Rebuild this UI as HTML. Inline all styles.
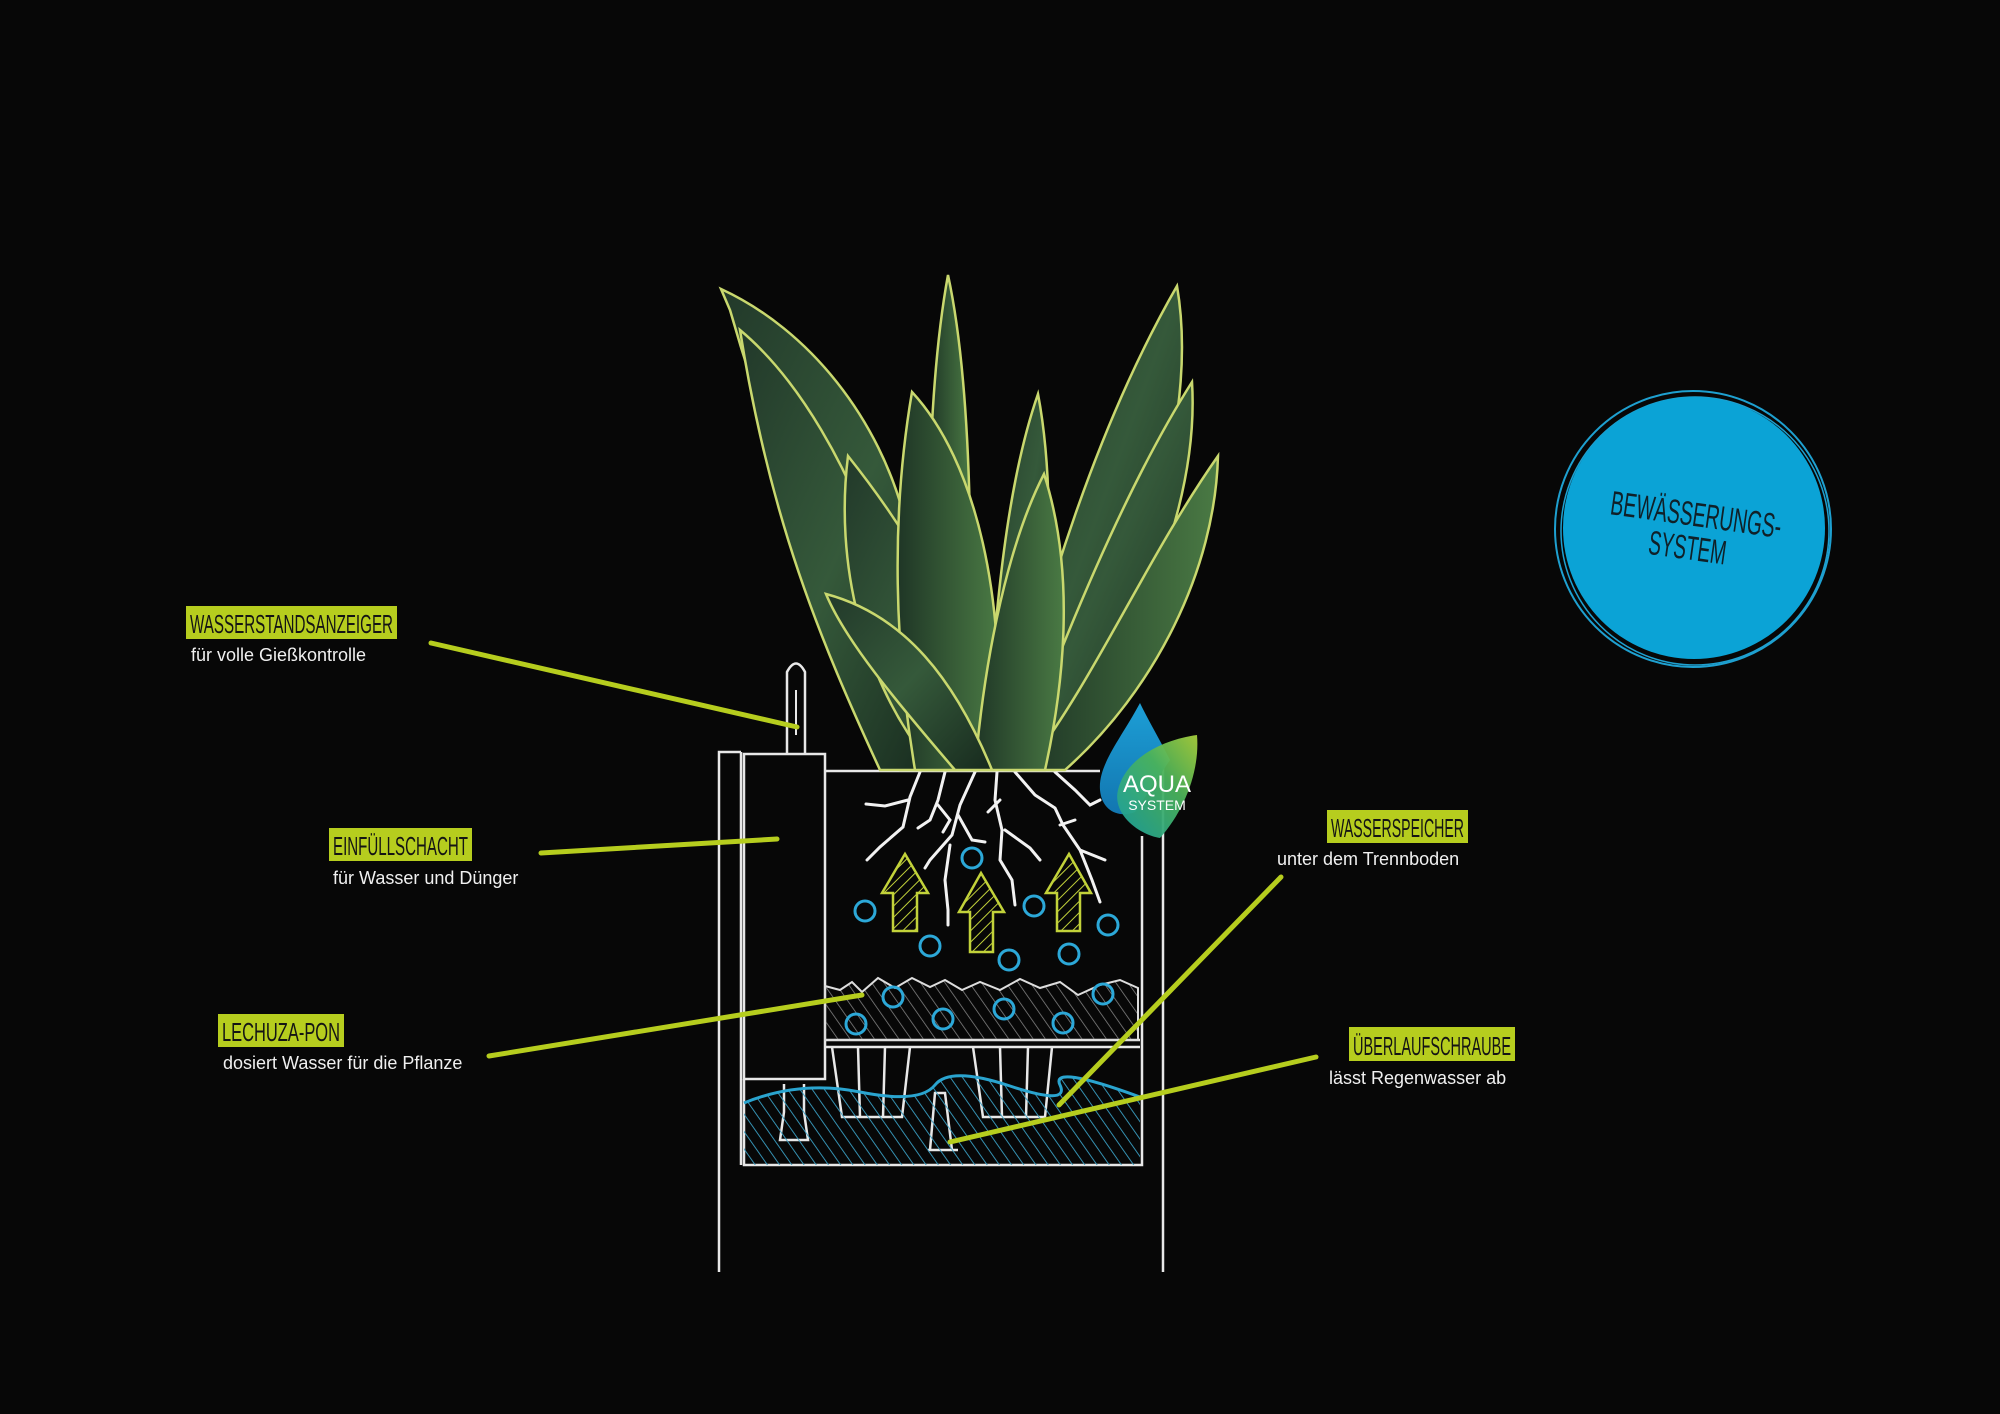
<!DOCTYPE html>
<html><head><meta charset="utf-8"><style>
html,body{margin:0;padding:0;background:#070707;}
svg{display:block}
</style></head><body>
<svg width="2000" height="1414" viewBox="0 0 2000 1414" xmlns="http://www.w3.org/2000/svg">
<defs>
<linearGradient id="lg" x1="0" y1="0" x2="1" y2="1">
<stop offset="0" stop-color="#22392a"/><stop offset="0.5" stop-color="#35593a"/><stop offset="1" stop-color="#172a1e"/>
</linearGradient>
<linearGradient id="lg2" x1="0" y1="0" x2="1" y2="0">
<stop offset="0" stop-color="#1f3626"/><stop offset="1" stop-color="#4a7a44"/>
</linearGradient>
<pattern id="hy" width="8" height="8" patternUnits="userSpaceOnUse" patternTransform="rotate(45)">
<line x1="0" y1="0" x2="0" y2="8" stroke="#c2d23a" stroke-width="2"/>
</pattern>
<pattern id="hw" width="10" height="10" patternUnits="userSpaceOnUse" patternTransform="rotate(-35)">
<line x1="0" y1="0" x2="0" y2="10" stroke="#888" stroke-width="1.5"/>
</pattern>
<pattern id="hb" width="10" height="10" patternUnits="userSpaceOnUse" patternTransform="rotate(-35)">
<line x1="0" y1="0" x2="0" y2="10" stroke="#3a9fc4" stroke-width="1.8"/>
</pattern>
<linearGradient id="bd" x1="0" y1="0" x2="0" y2="1"><stop offset="0" stop-color="#1d9fd6"/><stop offset="1" stop-color="#1276b0"/></linearGradient>
<linearGradient id="gd" x1="0" y1="1" x2="1" y2="0"><stop offset="0" stop-color="#1aa0a0"/><stop offset="0.6" stop-color="#4ab25a"/><stop offset="1" stop-color="#a8cf3c"/></linearGradient>
</defs>

<!-- pot structure -->
<g fill="none" stroke="#e8e8e8" stroke-width="2.5">
<polyline points="719,1272 719,752 741,752"/>
<line x1="741" y1="752" x2="741" y2="1165"/>
<polyline points="744,1079 744,1165 1142,1165 1142,836"/>
<rect x="744" y="754" width="81" height="325"/>
<line x1="1163" y1="765" x2="1163" y2="1272"/>
<line x1="825" y1="771" x2="1100" y2="771"/>
<line x1="825" y1="1040" x2="1140" y2="1040"/>
<line x1="825" y1="1047" x2="1140" y2="1047"/>
<path d="M787,753 L787,672 Q796,655 805,672 L805,753"/>
<line x1="796" y1="690" x2="796" y2="735" stroke-width="2"/>
<path d="M832,1047 L842,1117 L902,1117 L910,1047 M858,1047 L860,1117 M885,1047 L883,1117"/>
<path d="M973,1047 L983,1117 L1045,1117 L1052,1047 M1000,1047 L1002,1117 M1028,1047 L1026,1117"/>
<path d="M930,1150 L935,1093 L945,1093 L952,1150 M928,1150 L958,1150"/>
<path d="M784,1084 L784,1112 L780,1140 L808,1140 L804,1112 L804,1084"/>
</g>
<!-- soil -->
<path d="M825,986 L840,990 L852,982 L862,992 L878,978 L895,988 L912,978 L930,987 L945,980 L962,990 L980,982 L1000,990 L1020,979 L1040,988 L1060,982 L1078,995 L1100,985 L1120,980 L1138,988 L1138,1040 L825,1040 Z" fill="url(#hw)" stroke="#ddd" stroke-width="2"/>
<!-- water -->
<path d="M744,1103 Q800,1080 860,1092 T935,1085 T1010,1086 T1060,1085 T1140,1097 L1140,1165 L744,1165 Z" fill="url(#hb)"/>
<path d="M744,1103 Q800,1080 860,1092 T935,1085 T1010,1086 T1060,1085 T1140,1097" fill="none" stroke="#2aa4cf" stroke-width="3"/>

<!-- roots -->
<g fill="none" stroke="#f2f2f2" stroke-width="3" stroke-linecap="round">
<path d="M920,772 L910,797 L903,827 L880,847 L867,860 M908,800 L885,806 L866,804"/>
<path d="M945,772 L938,800 L930,820 L918,828 M938,805 L950,820 L943,832"/>
<path d="M975,772 L960,805 L952,835 L930,860 L925,868 M950,845 L945,880 L948,910 L948,925 M958,815 L972,840 L985,842"/>
<path d="M997,772 L995,800 L1002,830 L1000,860 L1012,880 L1015,905 M1000,800 L988,812 M1005,830 L1030,848 L1040,860"/>
<path d="M1015,772 L1035,795 L1055,808 L1063,825 L1080,850 L1092,880 L1100,902 M1060,825 L1075,820 M1080,850 L1105,860"/>
<path d="M1055,772 L1075,790 L1090,805 L1100,800"/>
</g>
<!-- arrows -->
<g fill="url(#hy)" stroke="#c2d23a" stroke-width="2.5">
<path d="M882,893 L905,854 L928,893 L917,893 L917,931 L893,931 L893,893 Z"/>
<path d="M959,912 L981,873 L1004,912 L993,912 L993,952 L970,952 L970,912 Z"/>
<path d="M1046,893 L1069,854 L1091,893 L1080,893 L1080,931 L1057,931 L1057,893 Z"/>
</g>
<!-- bubbles -->
<g fill="none" stroke="#2ca8d8" stroke-width="3">
<circle cx="865" cy="911" r="10"/><circle cx="930" cy="946" r="10"/><circle cx="972" cy="858" r="10"/>
<circle cx="1009" cy="960" r="10"/><circle cx="1034" cy="906" r="10"/><circle cx="1069" cy="954" r="10"/>
<circle cx="1108" cy="925" r="10"/><circle cx="856" cy="1024" r="10"/><circle cx="893" cy="997" r="10"/>
<circle cx="943" cy="1019" r="10"/><circle cx="1004" cy="1009" r="10"/><circle cx="1063" cy="1023" r="10"/>
<circle cx="1103" cy="994" r="10"/>
</g>

<!-- plant -->
<g stroke="#c9d86e" stroke-width="2.5" fill="url(#lg)">
<path d="M900,770 C850,620 790,520 730,310 L721,289 C810,330 880,420 905,520 C945,640 965,700 965,770 Z"/>
<path d="M880,770 C820,640 770,520 740,330 C800,380 850,470 880,560 C910,650 930,720 940,770 Z"/>
<path d="M1005,770 C1040,600 1100,420 1177,286 C1200,420 1140,600 1045,770 Z"/>
<path d="M935,770 C925,600 925,400 948,275 C975,400 972,600 968,770 Z" fill="url(#lg2)"/>
<path d="M1015,770 C1070,620 1130,480 1192,382 C1200,510 1130,660 1055,770 Z"/>
<path d="M935,770 C860,680 835,560 848,456 C915,540 975,640 995,770 Z"/>
<path d="M915,770 C895,650 890,520 912,392 C975,460 1010,600 995,770 Z" fill="url(#lg2)"/>
<path d="M1025,770 C1095,680 1145,560 1218,456 C1215,570 1155,690 1065,770 Z" fill="url(#lg2)"/>
<path d="M985,770 C995,600 1008,480 1038,394 C1058,500 1048,650 1025,770 Z"/>
<path d="M975,770 C985,650 1010,540 1044,474 C1075,570 1065,680 1045,770 Z" fill="url(#lg2)"/>
<path d="M955,770 C895,700 845,640 826,594 C905,615 955,680 992,770 Z"/>
</g>

<!-- aqua logo -->
<path d="M1140,703 C1120,740 1098,765 1100,790 C1102,812 1120,818 1135,812 L1170,760 C1160,740 1148,720 1140,703 Z" fill="url(#bd)"/>
<path d="M1197,735 C1160,740 1125,760 1118,790 C1112,815 1140,835 1160,838 C1185,810 1200,770 1197,735 Z" fill="url(#gd)" opacity="0.95"/>
<text x="1157" y="792" font-family="Liberation Sans, sans-serif" font-size="24" fill="#fff" text-anchor="middle">AQUA</text>
<text x="1157" y="810" font-family="Liberation Sans, sans-serif" font-size="14" fill="#fff" text-anchor="middle">SYSTEM</text>

<!-- leader lines -->
<g stroke="#b6cd1e" stroke-width="5" stroke-linecap="round">
<line x1="431" y1="643" x2="797" y2="727"/>
<line x1="541" y1="853" x2="777" y2="839"/>
<line x1="489" y1="1056" x2="862" y2="995"/>
<line x1="1281" y1="877" x2="1059" y2="1105"/>
<line x1="1316" y1="1057" x2="950" y2="1142"/>
</g>

<!-- labels -->
<g font-family="Liberation Sans Narrow, Liberation Sans, sans-serif" fill="#141414">
<rect x="186" y="606" width="211" height="33" fill="#b6cd1e"/>
<text x="190" y="633" font-size="26" textLength="203" lengthAdjust="spacingAndGlyphs">WASSERSTANDSANZEIGER</text>
<rect x="329" y="828" width="143" height="33" fill="#b6cd1e"/>
<text x="333" y="855" font-size="26" textLength="135" lengthAdjust="spacingAndGlyphs">EINFÜLLSCHACHT</text>
<rect x="218" y="1014" width="126" height="33" fill="#b6cd1e"/>
<text x="222" y="1041" font-size="26" textLength="118" lengthAdjust="spacingAndGlyphs">LECHUZA-PON</text>
<rect x="1327" y="810" width="141" height="33" fill="#b6cd1e"/>
<text x="1331" y="837" font-size="26" textLength="133" lengthAdjust="spacingAndGlyphs">WASSERSPEICHER</text>
<rect x="1349" y="1027" width="166" height="34" fill="#b6cd1e"/>
<text x="1353" y="1055" font-size="26" textLength="158" lengthAdjust="spacingAndGlyphs">ÜBERLAUFSCHRAUBE</text>
</g>
<g font-family="Liberation Sans, sans-serif" font-size="18" fill="#f0f0f0">
<text x="191" y="661">für volle Gießkontrolle</text>
<text x="333" y="884">für Wasser und Dünger</text>
<text x="223" y="1069">dosiert Wasser für die Pflanze</text>
<text x="1277" y="865">unter dem Trennboden</text>
<text x="1329" y="1084">lässt Regenwasser ab</text>
</g>

<!-- blue circle -->
<circle cx="1693" cy="529" r="138" fill="none" stroke="#1ea0d0" stroke-width="2"/>
<circle cx="1695" cy="531" r="134" fill="none" stroke="#1ea0d0" stroke-width="1.5"/>
<circle cx="1694" cy="528" r="131" fill="#0ba3d6"/>
<g transform="rotate(8 1694 530)" font-family="Liberation Sans Narrow, Liberation Sans, sans-serif" fill="#102028" text-anchor="middle">
<text x="1694" y="526" font-size="34" textLength="172" lengthAdjust="spacingAndGlyphs">BEWÄSSERUNGS-</text>
<text x="1690" y="560" font-size="34" textLength="78" lengthAdjust="spacingAndGlyphs">SYSTEM</text>
</g>
</svg>
</body></html>
